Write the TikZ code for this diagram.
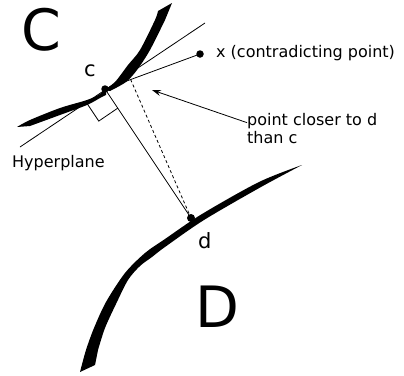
\documentclass[tikz,border=0pt]{standalone}
\usepackage{fontspec}
\setmainfont{DejaVu Sans}
\usetikzlibrary{calc,arrows.meta}

\tikzset{
  dot/.style={circle,fill=black,inner sep=0pt,minimum size=7.5pt},
  txt/.style={inner sep=0pt,anchor=base west,font=\fontsize{16}{18.5}\selectfont},
  ptname/.style={inner sep=0pt,anchor=base west,font=\fontsize{21}{24}\selectfont},
  setname/.style={inner sep=0pt,anchor=base west,font=\fontsize{57}{60}\selectfont},
}

\begin{document}
\begin{tikzpicture}[x=1pt,y=-1pt]
  \useasboundingbox (0,0) rectangle (404,375);
  % boundary of C, two tapered strokes meeting at c
  \fill plot[smooth] coordinates {(17,127) (30,120) (60,108) (87,100) (100,94) (106,88)}
    -- plot[smooth] coordinates {(106,95) (100,98) (87,105) (60,115) (30,126)} -- cycle;
  \fill plot[smooth] coordinates {(104,90) (115,82) (128,65) (140,50) (155,20) (158,11)}
    -- (172,3) -- plot[smooth] coordinates {(165,20) (150,50) (137,70) (126,82) (110,91)} -- cycle;
  % boundary of D
  \fill plot[smooth] coordinates {(302,165) (259,182) (202,214) (165,239) (145,253) (125,273)
      (106,302) (94,328) (86,350) (80,372)}
    -- (95,365) -- plot[smooth] coordinates {(98,350) (105,328) (116,304) (128,280) (140,266)
      (152,257) (165,247) (204,220) (261,187) (302,165)} -- cycle;
  % points
  \node[dot] (c) at (105,89) {};
  \node[dot] (x) at (200,54) {};
  \node[dot,minimum size=8pt] (d) at (191,218) {};
  \coordinate (h1) at (20,147);
  \coordinate (h2) at (205,23);
  \coordinate (p) at ($(c.center)!0.27!(x.center)$);
  \coordinate (near) at (152,90);
  % hyperplane, segments and right angle
  \draw[line width=0.8pt] (h1) -- (h2);
  \draw[line width=0.8pt] (c.center) -- (x.center);
  \draw[line width=0.8pt] (c.center) -- (d.center);
  \draw[line width=0.8pt,dash pattern=on 3pt off 2.5pt] (p) -- (d.center);
  \coordinate (q1) at ($(c.center)!23pt!(d.center)$);
  \coordinate (q3) at ($(c.center)!23pt!(h1)$);
  \draw[line width=0.8pt] (q1) -- ($(q1)+(q3)-(c.center)$) -- (q3);
  % labels
  \node[setname] (nC) at (21,50) {C};
  \node[setname] (nD) at (195,327) {D};
  \node[ptname] (nc) at (84,76) {c};
  \node[ptname] (nd) at (198,248) {d};
  \node[txt] (nx) at (216,57) {x (contradicting point)};
  \node[txt] (hyp) at (12,167) {Hyperplane};
  \node[txt,anchor=north west,align=left] (note) at (247,113) {point closer to d\\than c};
  \draw[line width=0.8pt,-{Stealth[length=9pt,width=6pt]}] ([yshift=6pt]note.west) -- (near);
\end{tikzpicture}
\end{document}
